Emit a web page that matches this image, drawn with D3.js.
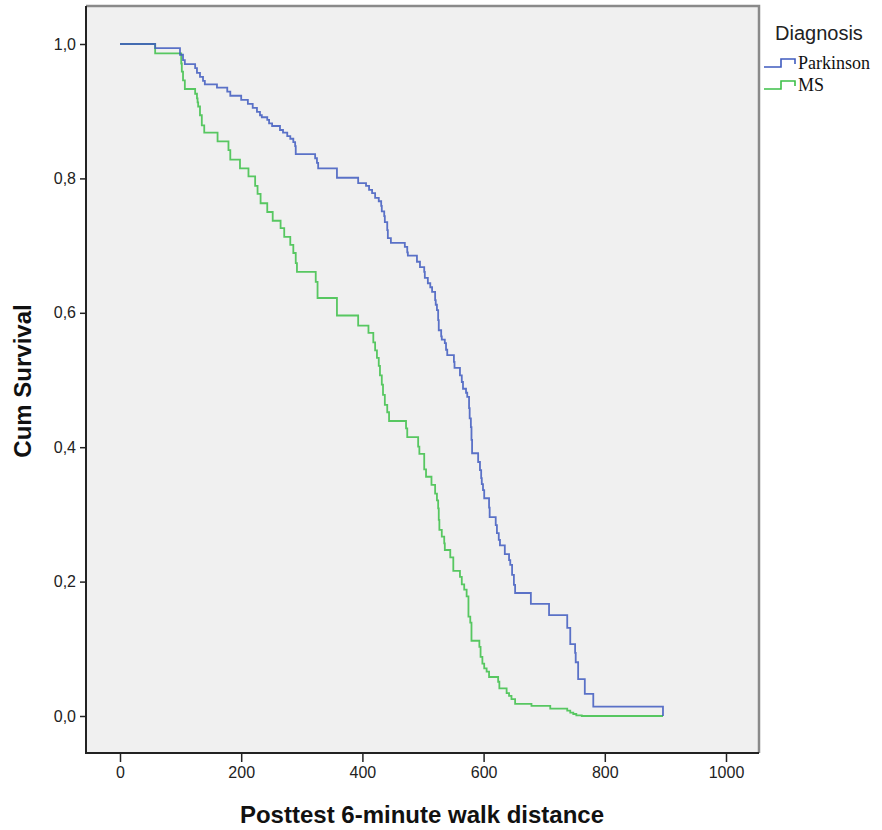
<!DOCTYPE html>
<html><head><meta charset="utf-8">
<script src="https://cdn.jsdelivr.net/npm/d3@7"></script>
<style>body{margin:0;background:#fff}</style></head>
<body><svg id="c" width="882" height="830"></svg>
<script>
const groups = ["Parkinson", "MS"];
const groupColors = ["#3f5bbf", "#3cc048"];
const parkinsonTime = [58,99,104,107,124,127,132,137,140,160,177,182,200,211,219,226,231,234,243,246,251,264,269,276,281,286,289,290,322,325,327,358,393,406,411,416,421,427,431,432,436,437,441,442,447,470,474,475,490,495,502,503,508,512,515,520,521,523,525,526,530,531,536,538,540,551,552,561,564,566,571,573,576,577,579,580,581,591,594,596,597,599,601,609,610,620,622,625,627,635,642,644,647,650,652,678,708,738,743,751,752,756,767,781,896];
const parkinsonSurv = [.994,.984,.976,.970,.964,.957,.951,.945,.940,.935,.929,.923,.917,.911,.905,.899,.894,.891,.887,.882,.878,.872,.868,.863,.859,.854,.848,.836,.830,.823,.815,.801,.793,.789,.783,.778,.771,.766,.759,.751,.744,.735,.723,.711,.704,.698,.690,.685,.676,.668,.661,.652,.644,.638,.631,.619,.612,.604,.589,.574,.565,.560,.555,.545,.537,.527,.518,.507,.497,.487,.481,.475,.458,.443,.430,.411,.391,.378,.366,.354,.345,.336,.324,.310,.296,.284,.272,.262,.254,.241,.232,.225,.210,.195,.183,.167,.150,.131,.107,.094,.080,.055,.033,.014,0];
const msTime = [58,101,102,104,107,124,127,128,129,132,135,139,161,179,182,198,212,223,227,232,243,252,265,271,281,286,290,292,323,326,358,393,410,418,421,424,427,429,432,434,437,441,444,472,474,492,494,502,505,514,520,523,525,526,527,531,535,536,545,550,561,564,568,572,575,578,580,593,595,598,601,605,609,624,626,638,642,646,652,679,710,738,743,748,753,762];
const msSurv = [.986,.971,.959,.946,.933,.926,.919,.913,.907,.894,.879,.868,.855,.842,.828,.815,.803,.789,.777,.763,.750,.737,.726,.713,.701,.689,.674,.661,.646,.622,.596,.581,.570,.556,.544,.533,.521,.507,.493,.478,.463,.452,.439,.428,.415,.401,.390,.367,.356,.344,.331,.321,.309,.292,.277,.267,.257,.247,.236,.216,.207,.196,.188,.178,.148,.139,.112,.103,.088,.078,.071,.066,.058,.051,.041,.034,.030,.025,.018,.015,.011,.008,.005,.003,.001,0];
const followUpEnd = [896, 896];
const xTicks = [0, 200, 400, 600, 800, 1000];
const yTicks = [0, 0.2, 0.4, 0.6, 0.8, 1.0];
const yTickLabels = ["0,0", "0,2", "0,4", "0,6", "0,8", "1,0"];
const xTitle = "Posttest 6-minute walk distance";
const yTitle = "Cum Survival";
const legendTitle = "Diagnosis";

const svg = d3.select("#c");
const F = {left: 86, right: 759, top: 6, bottom: 753};
const x = d3.scaleLinear().domain([0, 1000]).range([120, 726]);
const y = d3.scaleLinear().domain([0, 1]).range([716, 44]);

svg.append("rect").attr("x", F.left).attr("y", F.top)
  .attr("width", F.right - F.left).attr("height", F.bottom - F.top).attr("fill", "#f0f0f0");
svg.append("path").attr("d", `M${F.left},${F.top}H${F.right}V${F.bottom}`)
  .attr("fill", "none").attr("stroke", "#8a8a8a").attr("stroke-width", 2.5);

const series = [
  {name: groups[0], t: parkinsonTime, s: parkinsonSurv, end: followUpEnd[0], color: groupColors[0]},
  {name: groups[1], t: msTime, s: msSurv, end: followUpEnd[1], color: groupColors[1]}
];
const line = d3.line().x(d => x(d[0])).y(d => y(d[1])).curve(d3.curveStepAfter);
series.slice().reverse().forEach(sr => {
  const pts = [[0, 1]].concat(sr.t.map((t, i) => [t, sr.s[i]]));
  const last = pts[pts.length - 1];
  if (last[0] < sr.end) pts.push([sr.end, last[1]]);
  svg.append("path").attr("d", line(pts)).attr("fill", "none")
    .attr("stroke", sr.color).attr("stroke-width", 1.8).attr("stroke-opacity", 0.85);
});

const ya = svg.append("g").attr("transform", `translate(${F.left},0)`)
  .call(d3.axisLeft(y).tickValues(yTicks).tickFormat((d, i) => yTickLabels[i]).tickSize(6).tickPadding(4));
const xa = svg.append("g").attr("transform", `translate(0,${F.bottom})`)
  .call(d3.axisBottom(x).tickValues(xTicks).tickFormat(d3.format("d")).tickSize(9).tickPadding(5));
[ya, xa].forEach(a => {
  a.select(".domain").remove();
  a.selectAll(".tick line").attr("stroke", "#222").attr("stroke-width", 1.5);
  a.selectAll(".tick text").attr("font-family", "Liberation Sans, Arial, sans-serif")
    .attr("font-size", 16).attr("fill", "#222");
});
svg.append("path").attr("d", `M${F.left},${F.top}V${F.bottom}H${F.right}`)
  .attr("fill", "none").attr("stroke", "#222").attr("stroke-width", 2);

svg.append("text").attr("x", 422).attr("y", 823)
  .attr("text-anchor", "middle").attr("font-family", "Liberation Sans, Arial, sans-serif")
  .attr("font-weight", "bold").attr("font-size", 24).attr("fill", "#111").text(xTitle);
svg.append("text").attr("transform", "translate(31,381) rotate(-90)")
  .attr("text-anchor", "middle").attr("font-family", "Liberation Sans, Arial, sans-serif")
  .attr("font-weight", "bold").attr("font-size", 24).attr("fill", "#111").text(yTitle);

svg.append("text").attr("x", 775).attr("y", 40).attr("font-family", "Liberation Sans, Arial, sans-serif")
  .attr("font-size", 20).attr("fill", "#222").text(legendTitle);
series.forEach((sr, i) => {
  const by = 67 + i * 22;
  svg.append("path").attr("d", `M764,${by}H781V${by - 8}H795V${by - 3}`)
    .attr("fill", "none").attr("stroke", sr.color).attr("stroke-width", 1.6);
  svg.append("text").attr("x", 798).attr("y", by + 2).attr("font-family", "Liberation Serif, Times New Roman, serif")
    .attr("font-size", 18).attr("fill", "#111").text(sr.name);
});
</script></body></html>
